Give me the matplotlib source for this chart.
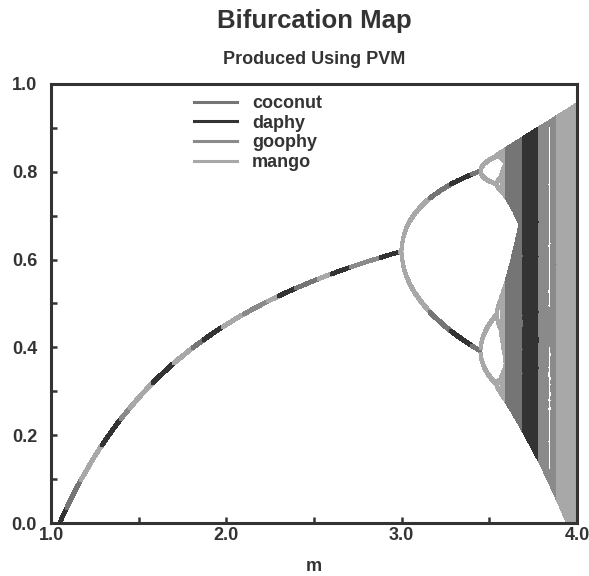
import numpy as np
import matplotlib
matplotlib.use("Agg")
import matplotlib.pyplot as plt
from matplotlib.lines import Line2D

# ---- data ----
workers = ["coconut", "daphy", "goophy", "mango"]
worker_colors = ["#757575", "#333333", "#8a8a8a", "#a8a8a8"]

# chunk start values of the growth parameter m and which worker computed each chunk
chunk_starts = [1.00, 1.09, 1.17, 1.29, 1.40, 1.45, 1.58, 1.70, 1.81, 1.87,
                1.98, 2.10, 2.24, 2.30, 2.40, 2.53, 2.60, 2.71, 2.88, 2.99,
                3.16, 3.28, 3.40, 3.45, 3.60, 3.70, 3.79, 3.89]
chunk_workers = ["daphy", "coconut", "mango", "daphy", "goophy", "mango", "daphy", "mango", "coconut", "daphy",
                 "mango", "goophy", "mango", "daphy", "coconut", "mango", "daphy", "goophy", "daphy", "mango",
                 "coconut", "daphy", "coconut", "mango", "coconut", "daphy", "goophy", "mango"]
m_end = 4.0
samples_per_unit = 520
transient_steps = 600
kept_steps = 400
x_start = 0.5
baseline_shift = 0.048   # the plotted population is offset down in the reference

x_ticks_major = [1.0, 2.0, 3.0, 4.0]
x_tick_labels = ["1.0", "2.0", "3.0", "4.0"]
y_ticks_major = [0.0, 0.2, 0.4, 0.6, 0.8, 1.0]
y_tick_labels = ["0.0", "0.2", "0.4", "0.6", "0.8", "1.0"]

# ---- figure ----
W, H = 589, 576
fig = plt.figure(figsize=(W / 100, H / 100), dpi=100)
ax = fig.add_axes([51 / W, 1 - 523 / H, (577 - 51) / W, (523 - 84) / H])

dark = "#333333"
font = "Liberation Sans"

bounds = chunk_starts + [m_end]
for i, wname in enumerate(chunk_workers):
    lo, hi = bounds[i], bounds[i + 1]
    n = max(2, int(round((hi - lo) * samples_per_unit)))
    m = np.linspace(lo, hi, n, endpoint=False)
    x = np.full_like(m, x_start)
    for _ in range(transient_steps):
        x = m * x * (1 - x)
    xs = np.empty((kept_steps, n))
    for k in range(kept_steps):
        x = m * x * (1 - x)
        xs[k] = x
    mm = np.broadcast_to(m, xs.shape).ravel()
    yy = xs.ravel() - baseline_shift
    col = worker_colors[workers.index(wname)]
    ax.plot(mm, yy, linestyle="none", marker="s", markersize=2.3,
            markeredgewidth=0, color=col, rasterized=True)

ax.set_xlim(1.0, 4.0)
ax.set_ylim(0.0, 1.0)

ax.set_xticks(x_ticks_major)
ax.set_xticklabels(x_tick_labels)
ax.set_xticks(np.arange(1.5, 4.0, 1.0), minor=True)
ax.set_yticks(y_ticks_major)
ax.set_yticklabels(y_tick_labels)
ax.set_yticks(np.arange(0.1, 1.0, 0.2), minor=True)

ax.tick_params(which="both", direction="in", length=4, width=1.8, color=dark,
               top=False, right=False)
ax.tick_params(axis="x", which="major", pad=3)
ax.tick_params(axis="y", which="major", pad=10)
for lab in ax.get_xticklabels() + ax.get_yticklabels():
    lab.set_fontfamily(font)
    lab.set_fontsize(13)
    lab.set_fontweight("bold")
    lab.set_color(dark)

for s in ax.spines.values():
    s.set_linewidth(2.2)
    s.set_color(dark)

ax.set_xlabel("m", fontsize=13, fontfamily=font, fontweight="bold", color=dark, labelpad=10)

cx = (51 + 577) / 2 / W
fig.text(cx, 1 - 21 / H, "Bifurcation Map", ha="center", va="center",
         fontsize=18.5, fontweight="bold", fontfamily=font, color=dark)
fig.text(cx, 1 - 60 / H, "Produced Using PVM", ha="center", va="center",
         fontsize=13, fontweight="bold", fontfamily=font, color=dark)

handles = [Line2D([0], [0], color=c, lw=2.2) for c in worker_colors]
leg = ax.legend(handles, workers, loc="upper left",
                bbox_to_anchor=((194 - 51) / 526, 0.975),
                frameon=False, handlelength=2.4, handletextpad=0.8,
                labelspacing=0.15, borderpad=0, borderaxespad=0,
                prop={"family": font, "size": 13, "weight": "bold"})
for t in leg.get_texts():
    t.set_color(dark)

fig.savefig("out.png", dpi=100)
